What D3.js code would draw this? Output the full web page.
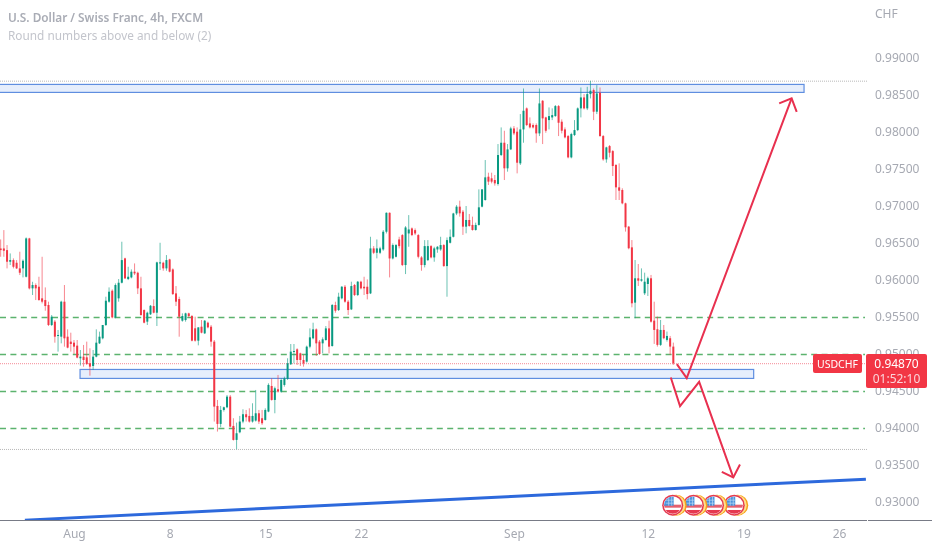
<!DOCTYPE html>
<html>
<head>
<meta charset="utf-8">
<script src="https://cdn.jsdelivr.net/npm/d3@7"></script>
<style>
html,body{margin:0;padding:0;background:#fff;overflow:hidden}
text{font-family:"Noto Sans",sans-serif}
svg{filter:blur(.35px)}
</style>
</head>
<body>
<div id="chart"></div>
<script>
var opens=[.96422,.96422,.96400,.96243,.96265,.96229,.96153,.96153,.96040,.96558,
.95883,.95928,.95905,.95748,.95725,.95658,.95388,.95433,.95239,.95230,
.95703,.95230,.95163,.95149,.95109,.94938,.94960,.94951,.94870,.94834,
.94960,.95140,.95208,.95388,.95703,.95851,.95491,.95748,.95959,.96288,
.96009,.96031,.96108,.96094,.95883,.95590,.95433,.95532,.95644,.95554,
.96220,.96229,.96153,.96274,.96139,.95815,.95739,.95446,.95455,.95545,
.95509,.95343,.95176,.95365,.95275,.95419,.95365,.95163,.94294,.94051,
.94240,.94276,.94420,.94024,.93835,.93938,.94083,.94182,.94159,.94083,
.94096,.94195,.94128,.94105,.94218,.94564,.94375,.94519,.94488,.94578,
.94659,.94857,.95028,.95059,.95005,.94915,.94893,.95095,.95208,.95329,
.95163,.95140,.95185,.95342,.95104,.95658,.95590,.95748,.95905,.95703,
.95599,.95928,.95793,.95973,.95905,.95905,.95815,.96423,.96364,.96364,
.96409,.96648,.96904,.96287,.96310,.96544,.96603,.96198,.96625,.96693,
.96670,.96603,.96301,.96198,.96265,.96454,.96301,.96409,.96409,.96468,
.96184,.96499,.96580,.96895,.96987,.96919,.96717,.96807,.96740,.96672,
.96740,.96987,.97077,.97392,.97370,.97347,.97293,.97685,.97851,.97505,
.97761,.98044,.98000,.97572,.98031,.98315,.98112,.98090,.98090,.97977,
.98418,.98193,.98157,.98193,.98211,.98346,.98135,.98031,.97941,.97653,
.97955,.98022,.98315,.98463,.98315,.98508,.98562,.98270,.98526,.97941,
.97626,.97806,.97738,.97550,.97248,.97212,.97032,.96717,.96437,.95690,
.96019,.95987,.95816,.95942,.96019,.95447,.95330,.95119,.95321,.95186,
.95209,.95096];
var highs=[.96544,.96670,.96468,.96355,.96288,.96265,.96378,.96274,.96571,.96566,
.95972,.95950,.96040,.96310,.95896,.95703,.95523,.95455,.95320,.95716,
.95928,.95329,.95284,.95185,.95185,.95050,.95118,.95163,.95073,.95050,
.95329,.95298,.95388,.95770,.95896,.95869,.95950,.96009,.96513,.96297,
.96175,.96139,.96220,.96108,.96040,.95599,.95568,.95658,.95734,.96243,
.96499,.96243,.96333,.96283,.96153,.95914,.95770,.95545,.95554,.95554,
.95523,.95500,.95356,.95455,.95455,.95433,.95388,.95185,.94375,.94294,
.94285,.94442,.94442,.94128,.94069,.94159,.94249,.94240,.94262,.94330,
.94510,.94240,.94240,.94262,.94600,.94668,.94555,.94713,.94668,.94690,
.94938,.95131,.95131,.95073,.95014,.94983,.95109,.95342,.95419,.95342,
.95185,.95221,.95374,.95446,.95671,.95703,.95824,.95914,.95928,.95725,
.95973,.95942,.95982,.95986,.96040,.96004,.96580,.96454,.96544,.96445,
.96670,.96909,.96909,.96490,.96481,.96580,.96616,.96724,.96873,.96706,
.96693,.96616,.96319,.96535,.96535,.96468,.96445,.96454,.96580,.96481,
.96571,.96679,.96904,.97008,.97068,.96942,.96996,.96888,.96852,.96771,
.97221,.97221,.97617,.97446,.97446,.97415,.97833,.98058,.98013,.97833,
.98067,.98076,.98058,.98238,.98584,.98328,.98193,.98112,.98112,.98584,
.98427,.98202,.98328,.98315,.98360,.98360,.98166,.98058,.97955,.97986,
.98157,.98328,.98598,.98508,.98607,.98688,.98584,.98629,.98598,.97955,
.97797,.97820,.97752,.97563,.97572,.97235,.97041,.96726,.96536,.96266,
.96212,.96153,.96095,.96041,.96064,.95703,.95501,.95456,.95388,.95299,
.95240,.95150];
var lows=[.96310,.96310,.96153,.96198,.96153,.96144,.96063,.96031,.96031,.95869,
.95793,.95725,.95716,.95680,.95581,.95374,.95374,.95149,.95028,.95140,
.95095,.95073,.95028,.94996,.94938,.94839,.94825,.94848,.94703,.94780,
.94951,.95131,.95194,.95374,.95689,.95478,.95478,.95703,.95950,.96009,
.95995,.96018,.96063,.95806,.95513,.95410,.95388,.95523,.95545,.95374,
.96130,.96121,.96121,.96099,.95793,.95644,.95230,.95433,.95433,.95491,
.95167,.95163,.95113,.95275,.95266,.95343,.95095,.94083,.93948,.94006,
.94218,.94263,.94006,.93826,.93709,.93925,.94060,.94083,.94069,.94069,
.94083,.94051,.94038,.94096,.94209,.94366,.94195,.94474,.94474,.94555,
.94645,.94848,.94870,.94848,.94834,.94825,.94879,.95073,.95194,.94969,
.94983,.95005,.95176,.95005,.95095,.95554,.95577,.95734,.95689,.95523,
.95590,.95779,.95779,.95869,.95793,.95734,.95806,.96346,.96288,.96346,
.96391,.96625,.96031,.96274,.96301,.96423,.96184,.96076,.96445,.96589,
.96603,.96288,.96121,.96166,.96252,.96288,.96243,.96364,.96391,.96175,
.95770,.96490,.96571,.96873,.96852,.96605,.96627,.96717,.96663,.96663,
.96731,.96978,.97068,.97280,.97302,.97271,.97271,.97671,.97347,.97460,
.97752,.97954,.97437,.97550,.97851,.98076,.98044,.98044,.97851,.97941,
.97833,.97986,.98031,.98157,.98202,.97941,.97977,.97910,.97640,.97640,
.97941,.98008,.98193,.98301,.98292,.98450,.98157,.98238,.97932,.97608,
.97581,.97653,.97401,.97077,.97077,.97019,.96650,.96411,.95627,.95478,
.95915,.95973,.95793,.95780,.95420,.95132,.95096,.95105,.95195,.95164,
.94984,.94849];
var closes=[.96400,.96391,.96243,.96265,.96175,.96153,.96094,.96256,.96558,.95883,
.95928,.95883,.95725,.95703,.95644,.95388,.95500,.95230,.95253,.95703,
.95208,.95082,.95131,.95095,.94947,.94960,.94915,.94861,.94825,.94960,
.95149,.95230,.95388,.95716,.95838,.95491,.95928,.95959,.96265,.96018,
.96040,.96108,.96085,.95883,.95523,.95419,.95554,.95648,.95554,.96234,
.96234,.96153,.96265,.96108,.95806,.95703,.95500,.95509,.95545,.95509,
.95176,.95176,.95356,.95284,.95446,.95356,.95163,.94285,.94051,.94240,
.94276,.94420,.94015,.93835,.93925,.94083,.94182,.94141,.94083,.94159,
.94195,.94083,.94060,.94240,.94578,.94375,.94533,.94488,.94645,.94668,
.94870,.95028,.95037,.94915,.94915,.94870,.95095,.95221,.95329,.95140,
.94996,.95194,.95342,.95095,.95658,.95581,.95770,.95905,.95703,.95590,
.95914,.95793,.95973,.95883,.95883,.95806,.96423,.96364,.96423,.96423,
.96648,.96904,.96287,.96468,.96468,.96454,.96198,.96706,.96679,.96603,
.96625,.96310,.96198,.96454,.96454,.96301,.96423,.96445,.96468,.96184,
.96535,.96580,.96895,.96987,.96897,.96717,.96807,.96726,.96672,.96740,
.96978,.97221,.97383,.97325,.97325,.97302,.97685,.97851,.97505,.97761,
.98044,.97977,.97581,.98031,.98283,.98090,.98058,.98058,.97977,.98382,
.98180,.98013,.98211,.98224,.98346,.98121,.98013,.97923,.97653,.97968,
.98022,.98315,.98463,.98315,.98508,.98553,.98270,.98517,.97941,.97626,
.97788,.97716,.97536,.97248,.97203,.97032,.96708,.96425,.95681,.96019,
.95987,.96005,.95973,.96019,.95433,.95321,.95119,.95321,.95209,.95240,
.95096,.94870];

var priceTicks=[.93,.935,.94,.945,.95,.955,.96,.965,.97,.975,.98,.985,.99];
var dateBars=[23,53,83,113,161,203,233,263];
var dateLabels=["Aug","8","15","22","Sep","12","19","26"];

var roundLevels=[.955,.95,.945,.94];
var dottedLevels=[.98683,.93706];
var lastPrice=.94865;
var zoneBars=[[-1,252],[24.9,236.2]];
var zonePrices=[[.98639,.98531],[.94787,.94666]];
var trendBars=[7.6,271.4];
var trendPrices=[.92751,.93305];
var arrowUpBars=[212.1,215.2,248.1], arrowUpPrices=[.94859,.94670,.98450];
var arrowUpHeadBars=[244.2,248.1,249.7], arrowUpHeadPrices=[.98382,.98450,.98268];
var arrowDownBars=[210.2,213.1,219.1,229.8], arrowDownPrices=[.94679,.94291,.94620,.93328];
var arrowDownHeadBars=[226.2,229.8,231.9], arrowDownHeadPrices=[.93403,.93328,.93503];
var eventBars=[210.8,217.3,223.6,230.1];
var eventPrice=.92953;

var width=932,height=550,plotW=867,axisY=520.5;
var up="#089981",down="#f23645";

var x=d3.scaleLinear().domain([0,271]).range([.67,.67+3.188*271]);
var y=d3.scaleLinear().domain([.93,.99]).range([501.7,57.7]);

var svg=d3.select("#chart").append("svg")
	.attr("width",width)
	.attr("height",height)
	.style("display","block");

var defs=svg.append("defs");
defs.append("clipPath").attr("id","plot")
	.append("rect").attr("x",0).attr("y",0).attr("width",plotW).attr("height",axisY);
defs.append("clipPath").attr("id","flagClip")
	.append("circle").attr("r",8.6);

var plot=svg.append("g").attr("clip-path","url(#plot)");

// lignes de niveaux
plot.selectAll(".round").data(roundLevels).enter().append("line")
	.attr("x1",0).attr("x2",plotW-2)
	.attr("y1",function(d){return Math.round(y(d))+.5;})
	.attr("y2",function(d){return Math.round(y(d))+.5;})
	.attr("stroke","#5cb36e").attr("stroke-width",1.3).attr("stroke-dasharray","6 4.4");

plot.selectAll(".dotted").data(dottedLevels).enter().append("line")
	.attr("x1",0).attr("x2",plotW)
	.attr("y1",y).attr("y2",y)
	.attr("stroke","#b8b8b8").attr("stroke-width",1).attr("stroke-dasharray","1 1");

plot.append("line")
	.attr("x1",0).attr("x2",plotW)
	.attr("y1",y(lastPrice)).attr("y2",y(lastPrice))
	.attr("stroke","#f58a97").attr("stroke-width",1).attr("stroke-dasharray","1 1");

// zones
plot.selectAll(".zone").data(zoneBars).enter().append("rect")
	.attr("x",function(d){return x(d[0]);})
	.attr("width",function(d){return x(d[1])-x(d[0]);})
	.attr("y",function(d,i){return y(zonePrices[i][0]);})
	.attr("height",function(d,i){return y(zonePrices[i][1])-y(zonePrices[i][0]);})
	.attr("fill","#e6eefc")
	.attr("stroke","#5f8ee0")
	.attr("stroke-width",1.2);

// bougies
var candles=plot.selectAll(".candle").data(opens).enter().append("g")
	.attr("fill",function(d,i){return closes[i]>=d?up:down;})
	.attr("stroke",function(d,i){return closes[i]>=d?up:down;});

candles.append("line")
	.attr("x1",function(d,i){return x(i);})
	.attr("x2",function(d,i){return x(i);})
	.attr("y1",function(d,i){return y(highs[i]);})
	.attr("y2",function(d,i){return y(lows[i]);})
	.attr("stroke-opacity",.6)
	.attr("stroke-width",1);

candles.append("rect")
	.attr("x",function(d,i){return x(i)-1;})
	.attr("width",2)
	.attr("y",function(d,i){return y(Math.max(d,closes[i]));})
	.attr("height",function(d,i){return Math.max(1,Math.abs(y(d)-y(closes[i])));})
	.attr("stroke","none");

// ligne de tendance
var line=d3.line().x(function(d){return x(d[0]);}).y(function(d){return y(d[1]);});

plot.append("path")
	.attr("d",line(d3.zip(trendBars,trendPrices)))
	.attr("fill","none")
	.attr("stroke","#2d69dc")
	.attr("stroke-width",3);

// fleches
[[arrowUpBars,arrowUpPrices],[arrowUpHeadBars,arrowUpHeadPrices],
 [arrowDownBars,arrowDownPrices],[arrowDownHeadBars,arrowDownHeadPrices]].forEach(function(a){
	plot.append("path")
		.attr("d",line(d3.zip(a[0],a[1])))
		.attr("fill","none")
		.attr("stroke","#e8304f")
		.attr("stroke-width",2)
		.attr("stroke-linejoin","miter");
});

// icones
var flags=plot.selectAll(".flag").data(eventBars.slice().reverse()).enter().append("g")
	.attr("transform",function(d){return "translate("+x(d)+","+y(eventPrice)+")";});

flags.append("circle").attr("cx",3.5).attr("r",10.5).attr("fill","#f7a21b");
flags.append("circle").attr("cx",2).attr("r",10.5).attr("fill","#ffe08a");
flags.append("circle").attr("r",10.5).attr("fill","#e5394f");
flags.append("circle").attr("r",9).attr("fill","#fff");
var inner=flags.append("g").attr("clip-path","url(#flagClip)");
inner.append("rect").attr("x",-9).attr("y",-.5).attr("width",18).attr("height",3).attr("fill","#e5606f");
inner.append("rect").attr("x",-9).attr("y",4.8).attr("width",18).attr("height",4.4).attr("fill","#e5394f");
inner.append("rect").attr("x",-9).attr("y",-9).attr("width",10).attr("height",9.5).attr("fill","#4a93dc");
inner.append("path").attr("d","M-7-5H1M-7-2H1M-4-9V.5M-1-9V.5").attr("stroke","#bcd9f4").attr("stroke-width",.7);

// axes
var yAxis=d3.axisRight(y).tickValues(priceTicks).tickSize(0).tickPadding(0)
	.tickFormat(d3.format(".5f"));
var gy=svg.append("g").attr("transform","translate(875,0)").call(yAxis);
gy.select(".domain").remove();
gy.selectAll("text").attr("fill","#a6a9b2").style("font-size","12px")
	.style("font-family","\"Noto Sans\",sans-serif");

var xAxis=d3.axisBottom(x).tickValues(dateBars).tickSize(0).tickPadding(9)
	.tickFormat(function(d,i){return dateLabels[i];});
var gx=svg.append("g").attr("transform","translate(0,"+axisY+")").call(xAxis);
gx.select(".domain").remove();
gx.selectAll("text").attr("fill","#a6a9b2").style("font-size","12px")
	.style("font-family","\"Noto Sans\",sans-serif");

svg.append("line").attr("x1",0).attr("x2",plotW).attr("y1",axisY).attr("y2",axisY)
	.attr("stroke","#787b86").attr("stroke-width",1);
svg.append("line").attr("x1",plotW+1).attr("x2",width).attr("y1",axisY).attr("y2",axisY)
	.attr("stroke","#787b86").attr("stroke-width",1);

// titres
svg.append("text").attr("x",8).attr("y",22)
	.attr("fill","#a9acb5").style("font-size","11.8px").style("font-weight","600")
	.text("U.S. Dollar / Swiss Franc, 4h, FXCM");
svg.append("text").attr("x",8).attr("y",40)
	.attr("fill","#c3c5cc").style("font-size","11.8px")
	.text("Round numbers above and below (2)");
svg.append("text").attr("x",875).attr("y",18)
	.attr("fill","#a6a9b2").style("font-size","12px")
	.text("CHF");

// etiquettes du dernier prix
svg.append("rect").attr("x",813).attr("y",354).attr("width",49).attr("height",19).attr("rx",2).attr("fill",down);
svg.append("text").attr("x",837.5).attr("y",368).attr("text-anchor","middle")
	.attr("fill","#fff").style("font-size","10.5px").text("USDCHF");
svg.append("rect").attr("x",866).attr("y",354).attr("width",61).attr("height",34).attr("rx",2).attr("fill",down);
svg.append("text").attr("x",896.5).attr("y",368).attr("text-anchor","middle")
	.attr("fill","#fff").style("font-size","12px").text("0.94870");
svg.append("text").attr("x",896.5).attr("y",383).attr("text-anchor","middle")
	.attr("fill","#fbd5da").style("font-size","12px").text("01:52:10");
</script>
</body>
</html>
